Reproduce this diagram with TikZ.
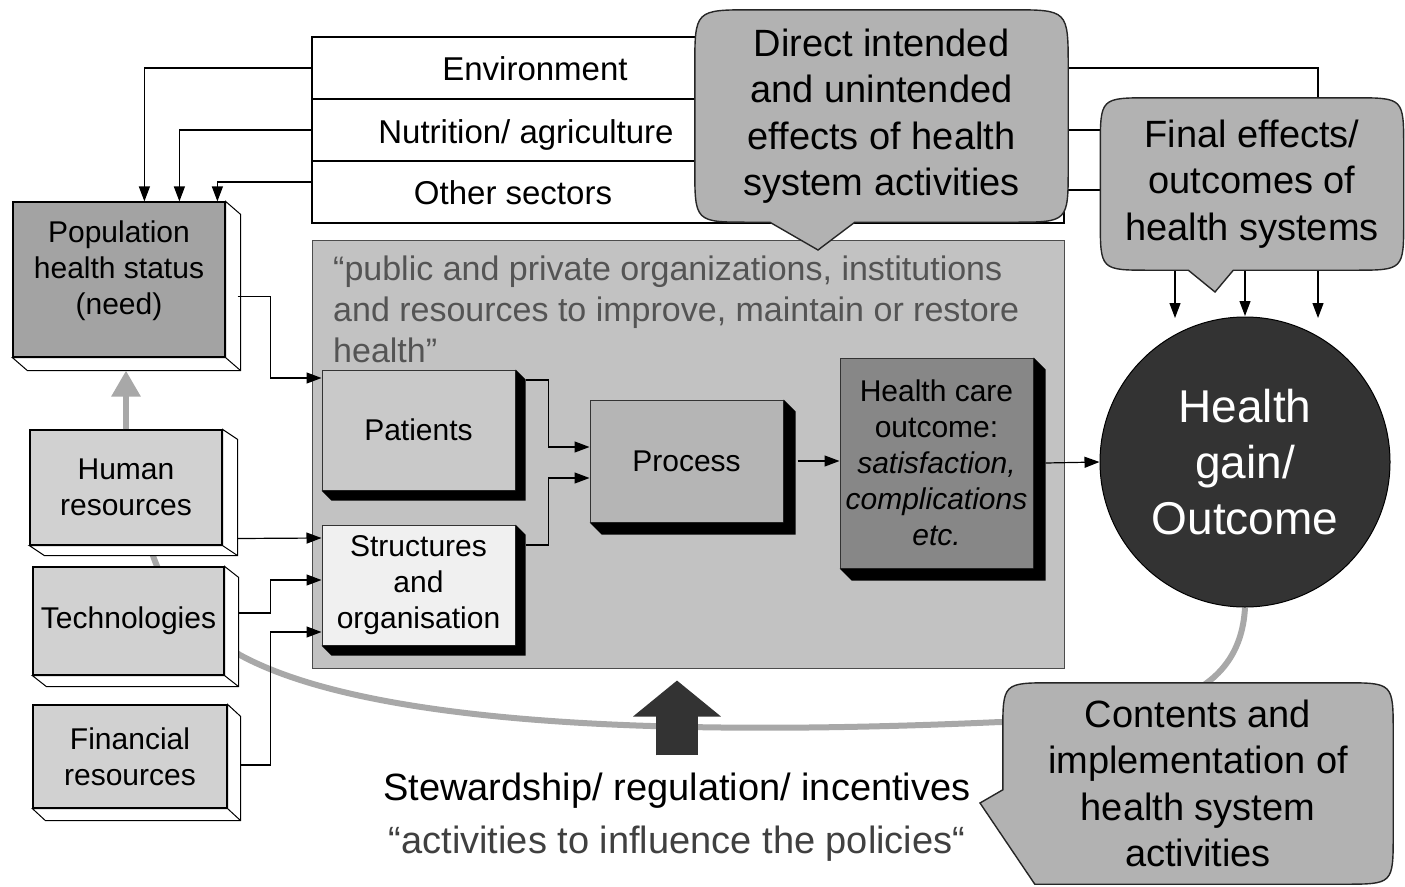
\documentclass[tikz,border=0pt]{standalone}
\usepackage{fontspec}
\setmainfont{Liberation Sans}
\usepackage{tikz}
\usetikzlibrary{arrows.meta, positioning}
\usepackage{xcolor}

\definecolor{bubblegray}{gray}{0.70}
\definecolor{hsgray}{gray}{0.76}
\definecolor{patgray}{gray}{0.79}
\definecolor{strgray}{gray}{0.94}
\definecolor{procgray}{gray}{0.71}
\definecolor{hcogray}{gray}{0.53}
\definecolor{popgray}{gray}{0.64}
\definecolor{resgray}{gray}{0.82}
\definecolor{darkfill}{gray}{0.2}
\definecolor{curvegray}{gray}{0.66}
\definecolor{quotegray}{gray}{0.33}
\definecolor{stewgray}{gray}{0.25}

\pgfdeclarelayer{background}
\pgfdeclarelayer{foreground}
\pgfsetlayers{background,main,foreground}

\newcommand{\fsz}[2]{\fontsize{#1pt}{#2pt}\selectfont}
% black extruded side of a box
\newcommand{\darkside}[2]{%
  \fill[black] (#1.north east) -- ++(#2,#2) -- ([shift={(#2,#2)}]#1.south east)
    -- ([shift={(#2,#2)}]#1.south west) -- (#1.south west) -- (#1.south east) -- cycle;}
% white extruded side of a box
\newcommand{\lightside}[3]{%
  \filldraw[fill=white, line width=1pt] (#1.north east) -- ++(#2,#3) -- ([shift={(#2,#3)}]#1.south east)
    -- ([shift={(#2,#3)}]#1.south west) -- (#1.south west) -- (#1.south east) -- cycle
    (#1.south east) -- ++(#2,#3);}

\begin{document}
\begin{tikzpicture}[
    x=1pt, y=-1pt,
    every node/.style={inner sep=0pt},
    sector/.style={
      rectangle,
      draw,
      line width=1.2pt,
      minimum width=752,
      minimum height=62
    },
    sectortext/.style={
      anchor=base,
      font=\fsz{33}{40}
    },
    leftbox/.style={
      rectangle,
      draw,
      line width=1.2pt,
      align=center,
      font=\fsz{30}{36}
    },
    innerbox/.style={
      rectangle,
      draw=black!80,
      line width=1pt,
      minimum width=193,
      align=center,
      font=\fsz{30}{36}
    },
    arrow/.style={
      -{Triangle[length=15pt,width=11pt]},
      line width=1.2pt
    },
    bubble/.style={
      fill=bubblegray,
      draw=black!85,
      line width=1.4pt
    },
    bubbletext/.style={
      align=center,
      font=\fsz{38}{46.5}
    }
  ]

  \useasboundingbox (0,0) rectangle (1405,886);

  % Sectors
  \node[sector] (env) at (688,68) {};
  \node[sector] (nut) at (688,130) {};
  \node[sector] (oth) at (688,192) {};
  \node[sectortext] (envtext) at (535,80) {Environment};
  \node[sectortext] (nuttext) at (526,143) {Nutrition/ agriculture};
  \node[sectortext] (othtext) at (513,204) {Other sectors};

  % Health system
  \node[draw=black!70, fill=hsgray, line width=1pt, minimum width=752, minimum height=428] (hs) at (688,454) {};
  \node[anchor=north west, align=left, text=quotegray, font=\fsz{34}{41}] (hsquote) at (333,256)
    {“public and private organizations, institutions\\and resources to improve, maintain or restore\\health”};

  \node[innerbox, fill=patgray, minimum height=120] (patients) at (418.5,430) {Patients};
  \node[innerbox, fill=strgray, minimum height=120] (struct) at (418.5,585) {Structures\\and\\organisation};
  \node[innerbox, fill=procgray, minimum height=122] (process) at (686.5,461) {Process};
  \node[innerbox, fill=hcogray, minimum height=210] (hco) at (936.5,463)
    {Health care\\outcome:\\\textit{satisfaction,}\\\textit{complications}\\\textit{etc.}};
  \darkside{patients}{10}
  \darkside{struct}{10}
  \darkside{process}{12}
  \darkside{hco}{12}

  % Outcome
  \node[circle, fill=darkfill, draw=black, line width=1pt, minimum size=290, text=white, text depth=-16pt,
    align=center, font=\fsz{46}{56}] (outcome) at (1245,462) {Health\\gain/\\Outcome};

  % Resources
  \node[leftbox, fill=popgray, minimum width=212, minimum height=155, text depth=24pt] (pop) at (119,279.5)
    {Population\\health status\\(need)};
  \node[leftbox, fill=resgray, minimum width=192, minimum height=115] (hr) at (126,487.5) {Human\\resources};
  \node[leftbox, fill=resgray, minimum width=191, minimum height=108] (tech) at (128.5,621) {Technologies};
  \node[leftbox, fill=resgray, minimum width=194, minimum height=103] (fin) at (130,756.5) {Financial\\resources};
  \lightside{pop}{15}{13}
  \lightside{hr}{15}{10}
  \lightside{tech}{14}{11}
  \lightside{fin}{13}{12}

  \coordinate (popbase) at ([yshift=-13pt]pop.south);
  \draw[-{Triangle[length=26pt,width=28pt]}, line width=6pt, curvegray] (hr.north) -- (hr.north |- popbase);

  % Connectors
  \draw[arrow] (env.west) -| ([xshift=132pt]pop.north west);
  \draw[arrow] (nut.west) -| ([xshift=167pt]pop.north west);
  \draw[arrow] ([yshift=10pt]oth.west) -| ([xshift=205pt]pop.north west);

  \draw[arrow] ([shift={(12,17)}]pop.east) -- ++(33,0) |- ([yshift=52pt]patients.west);
  \draw[arrow] ([shift={(15,51)}]hr.east) -- ([yshift=47pt]struct.west);
  \draw[arrow] ([shift={(14,-8)}]tech.east) -- ++(32,0) |- ([yshift=5pt]struct.west);
  \draw[arrow] ([shift={(13,8.5)}]fin.east) -- ++(30,0) |- ([yshift=-47pt]struct.west);

  \draw[arrow] ([shift={(10,-50)}]patients.east) -- ++(23,0) |- ([yshift=14pt]process.west);
  \draw[arrow] ([shift={(10,-40)}]struct.east) -- ++(23,0) |- ([yshift=-17pt]process.west);
  \draw[arrow] ([xshift=14pt]process.east) -- (hco.west |- process.east);
  \draw[arrow] ([xshift=12pt]hco.east) -- (outcome.west);

  \coordinate (tipa) at (1175,318);
  \coordinate (tipb) at (1245,316);
  \coordinate (tipc) at (1318,318);
  \draw[arrow] (env.east) -| (tipc);
  \draw[arrow] (nut.east) -| (tipb);
  \draw[arrow] ([yshift=2pt]oth.east) -| (tipa);

  % Stewardship
  \node[anchor=base, font=\fsz{38}{46}] (stew) at (677,800) {Stewardship/ regulation/ incentives};
  \node[anchor=base, text=stewgray, font=\fsz{38}{46}] (stewquote) at (677,853) {“activities to influence the policies“};
  \draw[line width=42pt, darkfill, -{Triangle[length=36pt,width=86pt]}, shorten <=17pt, shorten >=12pt]
    (stew.north) -- (stew.north |- hs.south);

  \begin{pgfonlayer}{background}
    \draw[line width=6pt, curvegray] (outcome.south) .. controls (1240,700) and (1150,722) .. (1000,722)
      .. controls (600,740) and (350,715) .. (240,655)
      .. controls (190,625) and (160,585) .. ([xshift=24pt]hr.south);
  \end{pgfonlayer}

  % Callouts
  \begin{pgfonlayer}{foreground}
    \node[bubbletext, minimum width=373, minimum height=212] (direct) at (881.5,116)
      {Direct intended\\and unintended\\effects of health\\system activities};
    \node[bubbletext, minimum width=303, minimum height=172] (final) at (1252,184)
      {Final effects/\\outcomes of\\health systems};
    \node[bubbletext, minimum width=390, minimum height=201] (contents) at (1198,783.5)
      {Contents and\\implementation of\\health system\\activities};
  \end{pgfonlayer}
  \coordinate (directtip) at (818,250);
  \coordinate (finaltip) at (1215,292);
  \coordinate (contentstip) at (980,803);

  \filldraw[bubble] ([xshift=58pt]direct.north west) -- ([xshift=-58pt]direct.north east)
    .. controls (direct.north east) .. ([yshift=-58pt]direct.north east)
    -- ([yshift=55pt]direct.south east)
    .. controls (direct.south east) .. ([xshift=-55pt]direct.south east)
    -- ([xshift=160pt]direct.south west) -- (directtip) -- ([xshift=75pt]direct.south west)
    -- ([xshift=55pt]direct.south west)
    .. controls (direct.south west) .. ([yshift=55pt]direct.south west)
    -- ([yshift=-58pt]direct.north west)
    .. controls (direct.north west) .. ([xshift=58pt]direct.north west) -- cycle;

  \filldraw[bubble] ([xshift=50pt]final.north west) -- ([xshift=-50pt]final.north east)
    .. controls (final.north east) .. ([yshift=-50pt]final.north east)
    -- ([yshift=50pt]final.south east)
    .. controls (final.south east) .. ([xshift=-50pt]final.south east)
    -- ([xshift=133pt]final.south west) -- (finaltip) -- ([xshift=88pt]final.south west)
    -- ([xshift=50pt]final.south west)
    .. controls (final.south west) .. ([yshift=50pt]final.south west)
    -- ([yshift=-50pt]final.north west)
    .. controls (final.north west) .. ([xshift=50pt]final.north west) -- cycle;

  \filldraw[bubble] ([xshift=50pt]contents.north west) -- ([xshift=-50pt]contents.north east)
    .. controls (contents.north east) .. ([yshift=-50pt]contents.north east)
    -- ([yshift=50pt]contents.south east)
    .. controls (contents.south east) .. ([xshift=-50pt]contents.south east)
    -- ([xshift=32pt]contents.south west) -- (contentstip) -- ([yshift=-107pt]contents.north west)
    -- ([yshift=-50pt]contents.north west)
    .. controls (contents.north west) .. ([xshift=50pt]contents.north west) -- cycle;

\end{tikzpicture}
\end{document}
